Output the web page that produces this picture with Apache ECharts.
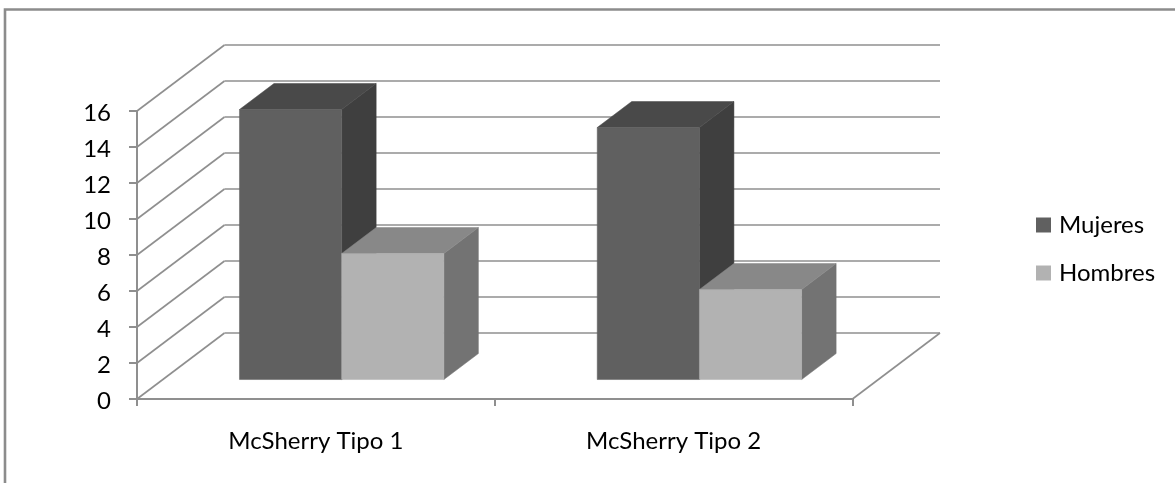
<!DOCTYPE html>
<html>
<head>
<meta charset="utf-8">
<title>McSherry</title>
<script src="https://cdn.jsdelivr.net/npm/echarts@6/dist/echarts.min.js"></script>
<style>
  html, body { margin: 0; padding: 0; background: #fff; }
  #chart { width: 1175px; height: 483px; }
</style>
</head>
<body>
<div id="chart"></div>
<script>
// Chart data
const categories = ['McSherry Tipo 1', 'McSherry Tipo 2'];
const mujeres = [15, 14];
const hombres = [7, 5];
const yTicks = [0, 2, 4, 6, 8, 10, 12, 14, 16];

// Oblique projection of the floor and of the boxes standing on it
const DEPTH_DX = 87.5;
const DEPTH_DY = 66;
const BAR_FRONT = 0.295;   // where the box front sits along the floor depth
const BAR_DEPTH = 0.394;   // box depth as a share of the floor depth
const BAR_SHARE = 1 / 3.5; // bar width as a share of a category
const AXIS_COLOR = '#8f8f8f';
const FONT = 'Lato, Carlito, sans-serif';

const chart = echarts.init(document.getElementById('chart'), null, { renderer: 'canvas' });

function wallRenderer(params, api) {
  const sys = params.coordSys;
  const p = api.coord([0, api.value(0)]);
  const left = sys.x;
  const y = p[1];
  const lines = [
    [[left, y], [left + DEPTH_DX, y - DEPTH_DY]],
    [[left + DEPTH_DX, y - DEPTH_DY], [left + sys.width + DEPTH_DX, y - DEPTH_DY]]
  ];
  if (api.value(0) === 0) {
    lines.push([[left + sys.width, y], [left + sys.width + DEPTH_DX, y - DEPTH_DY]]);
  }
  return {
    type: 'group',
    children: lines.map(function (pts) {
      return {
        type: 'polyline',
        shape: { points: pts },
        style: { stroke: AXIS_COLOR, lineWidth: 1.6, fill: null },
        silent: true
      };
    })
  };
}

function boxRenderer(slot, colors) {
  return function (params, api) {
    const cat = api.value(0);
    const catWidth = api.size([1, 0])[0];
    const barWidth = catWidth * BAR_SHARE;
    const shiftX = DEPTH_DX * BAR_FRONT;
    const shiftY = DEPTH_DY * BAR_FRONT;
    const dx = DEPTH_DX * BAR_DEPTH;
    const dy = DEPTH_DY * BAR_DEPTH;
    const base = api.coord([cat, 0]);
    const top = api.coord([cat, api.value(1)]);
    const x0 = base[0] + shiftX + (slot - 1) * barWidth;
    const x1 = x0 + barWidth;
    const yb = base[1] - shiftY;
    const yt = top[1] - shiftY;
    const face = function (pts, fill) {
      return {
        type: 'polygon',
        shape: { points: pts },
        style: { fill: fill, stroke: fill, lineWidth: 0.5 },
        silent: true
      };
    };
    return {
      type: 'group',
      children: [
        face([[x1, yb], [x1 + dx, yb - dy], [x1 + dx, yt - dy], [x1, yt]], colors.side),
        face([[x0, yt], [x0 + dx, yt - dy], [x1 + dx, yt - dy], [x1, yt]], colors.top),
        face([[x0, yb], [x1, yb], [x1, yt], [x0, yt]], colors.front)
      ]
    };
  };
}

const darkBox = { front: '#606060', top: '#494949', side: '#3f3f3f' };
const lightBox = { front: '#b2b2b2', top: '#888888', side: '#737373' };

chart.setOption({
  animation: false,
  backgroundColor: '#ffffff',
  graphic: [{
    type: 'polyline',
    shape: { points: [[5, 483], [5, 9.5], [1175, 9.5]] },
    style: { stroke: '#8c8c8c', lineWidth: 2.6, fill: null },
    silent: true
  }],
  legend: {
    data: ['Mujeres', 'Hombres'],
    orient: 'vertical',
    left: 1036,
    top: 213,
    padding: 0,
    icon: 'rect',
    itemWidth: 15,
    itemHeight: 15,
    itemGap: 24,
    selectedMode: false,
    textStyle: { fontFamily: FONT, fontSize: 24, color: '#000', padding: [0, 0, 0, 3] }
  },
  grid: { left: 137, top: 111, width: 715.5, height: 288 },
  xAxis: {
    type: 'category',
    data: categories,
    boundaryGap: true,
    axisLine: { show: true, lineStyle: { color: AXIS_COLOR, width: 2 } },
    axisTick: { show: true, length: 7, lineStyle: { color: AXIS_COLOR, width: 2 } },
    axisLabel: { margin: 30, fontFamily: FONT, fontSize: 24, color: '#000' },
    splitLine: { show: false }
  },
  yAxis: {
    type: 'value',
    min: 0,
    max: 16,
    interval: 2,
    axisLine: { show: true, lineStyle: { color: AXIS_COLOR, width: 2 } },
    axisTick: { show: true, length: 8, lineStyle: { color: AXIS_COLOR, width: 2 } },
    axisLabel: { margin: 26, fontFamily: FONT, fontSize: 24, color: '#000', verticalAlign: 'top', lineHeight: 4 },
    splitLine: { show: false }
  },
  series: [
    {
      name: 'Paredes',
      type: 'custom',
      renderItem: wallRenderer,
      data: yTicks.map(function (t) { return [t]; }),
      encode: { y: 0 },
      clip: false,
      silent: true,
      z: 1
    },
    {
      name: 'Mujeres',
      type: 'custom',
      renderItem: boxRenderer(0, darkBox),
      data: mujeres.map(function (v, i) { return [i, v]; }),
      encode: { x: 0, y: 1 },
      itemStyle: { color: darkBox.front },
      clip: false,
      silent: true,
      z: 2
    },
    {
      name: 'Hombres',
      type: 'custom',
      renderItem: boxRenderer(1, lightBox),
      data: hombres.map(function (v, i) { return [i, v]; }),
      encode: { x: 0, y: 1 },
      itemStyle: { color: lightBox.front },
      clip: false,
      silent: true,
      z: 3
    }
  ]
});
</script>
</body>
</html>
